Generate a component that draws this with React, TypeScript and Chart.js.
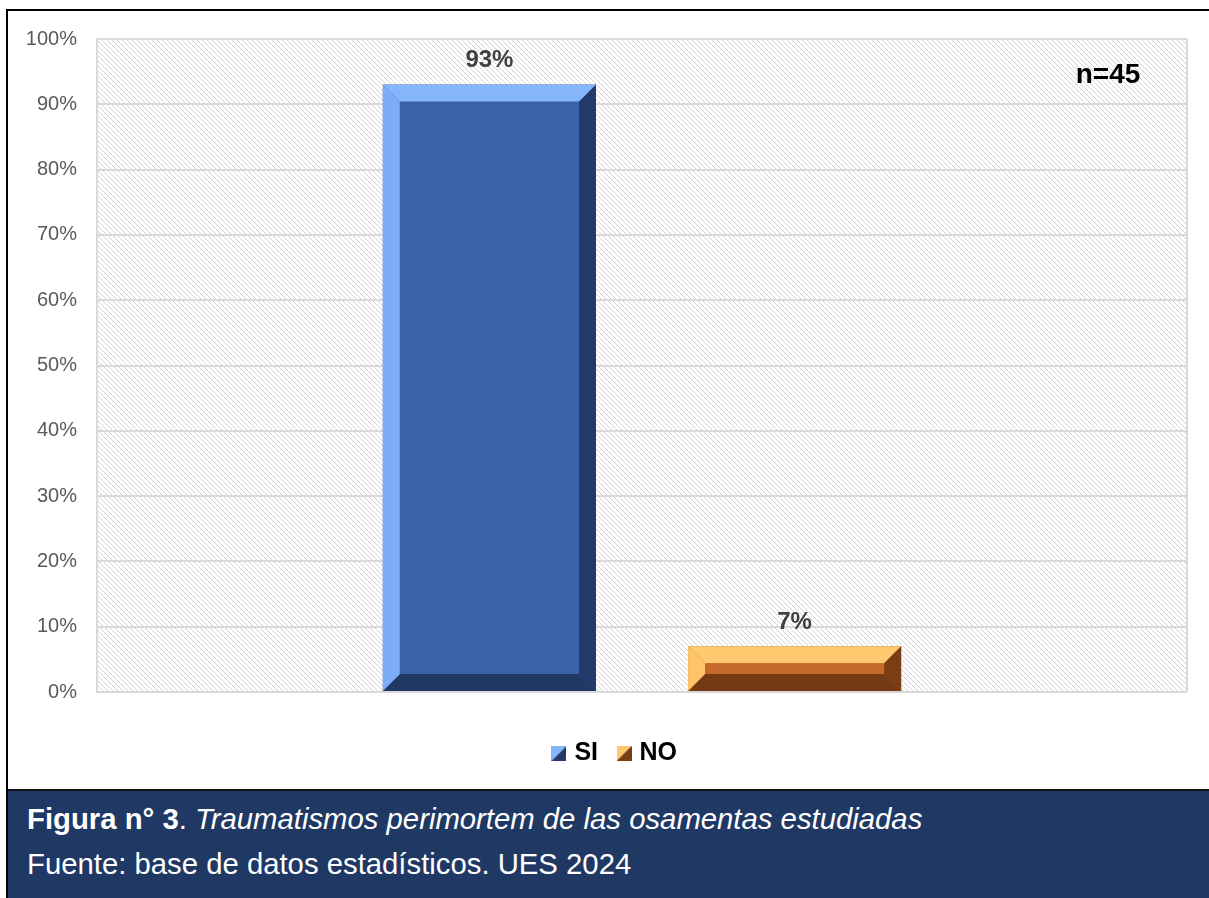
import React, { useEffect, useRef } from 'react';
import { Chart, registerables } from 'chart.js';

Chart.register(...registerables);

// ---- data ----
const categories: string[] = [''];
const seriesNames: string[] = ['SI', 'NO'];
const siValues: number[] = [93];
const noValues: number[] = [7];
const yTickValues: number[] = [0, 10, 20, 30, 40, 50, 60, 70, 80, 90, 100];
const sampleLabel = 'n=45';
const captionBold = 'Figura n° 3';
const captionItalic = 'Traumatismos perimortem de las osamentas estudiadas';
const sourceText = 'Fuente: base de datos estadísticos. UES 2024';

const palettes = [
  { face: '#3A62A6', top: '#85B5FB', left: '#7DAEF5', right: '#22396A', bottom: '#203864' },
  { face: '#C5692A', top: '#FFC970', left: '#FDC46A', right: '#7A3E15', bottom: '#743A14' },
];

const FONT = '"Liberation Sans", Arial, Helvetica, sans-serif';

function poly(ctx: CanvasRenderingContext2D, pts: number[][], color: string) {
  ctx.beginPath();
  ctx.moveTo(pts[0][0], pts[0][1]);
  for (let i = 1; i < pts.length; i++) ctx.lineTo(pts[i][0], pts[i][1]);
  ctx.closePath();
  ctx.fillStyle = color;
  ctx.fill();
}

function makeIcon(p: { top: string; right: string }) {
  const c = document.createElement('canvas');
  c.width = 15;
  c.height = 15;
  const g = c.getContext('2d')!;
  poly(g, [[0, 0], [15, 0], [0, 15]], p.top);
  poly(g, [[15, 0], [15, 15], [0, 15]], p.right);
  return c;
}

export default function App() {
  const ref = useRef<HTMLCanvasElement | null>(null);

  useEffect(() => {
    if (!ref.current) return;
    const tile = document.createElement('canvas');
    tile.width = 5;
    tile.height = 5;
    const tctx = tile.getContext('2d')!;
    tctx.fillStyle = '#ffffff';
    tctx.fillRect(0, 0, 5, 5);
    tctx.fillStyle = '#D2D2D2';
    for (let i = 0; i < 5; i++) tctx.fillRect(i, i, 1, 1);
    const icons = palettes.map(makeIcon);

    const decor = {
      id: 'decor',
      afterLayout(chart: any) {
        if (chart.legend) {
          chart.legend.left += 19;
          chart.legend.right += 19;
        }
      },
      beforeDraw(chart: any) {
        const { ctx, chartArea: a } = chart;
        const pat = ctx.createPattern(tile, 'repeat');
        ctx.save();
        ctx.fillStyle = pat;
        ctx.fillRect(a.left, a.top, a.right - a.left, a.bottom - a.top);
        ctx.restore();
      },
      beforeDatasetsDraw(chart: any) {
        const { ctx, chartArea: a } = chart;
        ctx.save();
        ctx.strokeStyle = '#D9D9D9';
        ctx.lineWidth = 2;
        ctx.beginPath();
        ctx.moveTo(a.right, a.top);
        ctx.lineTo(a.right, a.bottom);
        ctx.stroke();
        ctx.restore();
      },
      afterDatasetsDraw(chart: any) {
        const { ctx, chartArea: a } = chart;
        ctx.save();
        chart.data.datasets.forEach((ds: any, di: number) => {
          const meta = chart.getDatasetMeta(di);
          const p = palettes[di];
          meta.data.forEach((el: any, idx: number) => {
            const { x, y, base, width } = el.getProps(['x', 'y', 'base', 'width'], true);
            const l = x - width / 2;
            const r = x + width / 2;
            const t = Math.min(y, base);
            const bo = Math.max(y, base);
            const h = bo - t;
            const b = Math.min(17, h / 2, width / 2);
            ctx.fillStyle = p.face;
            ctx.fillRect(l, t, width, h);
            poly(ctx, [[l, t], [r, t], [r - b, t + b], [l + b, t + b]], p.top);
            poly(ctx, [[l, bo], [r, bo], [r - b, bo - b], [l + b, bo - b]], p.bottom);
            poly(ctx, [[l, t], [l + b, t + b], [l + b, bo - b], [l, bo]], p.left);
            poly(ctx, [[r, t], [r, bo], [r - b, bo - b], [r - b, t + b]], p.right);
            ctx.fillStyle = p.face;
            ctx.fillRect(l + b, t + b, width - 2 * b, h - 2 * b);
            ctx.font = `bold 24px ${FONT}`;
            ctx.fillStyle = '#404040';
            ctx.textAlign = 'center';
            ctx.textBaseline = 'middle';
            ctx.fillText(ds.data[idx] + '%', x, t - 24);
          });
        });
        ctx.font = `bold 28px ${FONT}`;
        ctx.fillStyle = '#000000';
        ctx.textAlign = 'center';
        ctx.textBaseline = 'middle';
        ctx.fillText(sampleLabel, a.right - 79, a.top + 36);
        ctx.restore();
      },
    };

    const chart = new Chart(ref.current, {
      type: 'bar',
      data: {
        labels: categories,
        datasets: [
          { label: seriesNames[0], data: siValues, backgroundColor: palettes[0].face },
          { label: seriesNames[1], data: noValues, backgroundColor: palettes[1].face },
        ],
      },
      options: {
        animation: false,
        responsive: false,
        events: [],
        layout: { padding: { left: 0, right: 22, top: 28, bottom: 13 } },
        datasets: {
          bar: { categoryPercentage: 0.56, barPercentage: 0.698 },
        } as any,
        scales: {
          x: {
            display: true,
            grid: { display: false },
            border: { display: false },
            ticks: { display: false },
            afterFit: (s: any) => {
              s.height = 26;
            },
          },
          y: {
            min: 0,
            max: 100,
            afterBuildTicks: (s: any) => {
              s.ticks = yTickValues.map((v) => ({ value: v }));
            },
            ticks: {
              callback: (v: any) => v + '%',
              color: '#595959',
              font: { family: FONT, size: 20 },
              padding: 8,
            },
            grid: {
              color: '#D9D9D9',
              lineWidth: 2,
              drawTicks: true,
              tickLength: 12,
              tickColor: 'rgba(0,0,0,0)',
            },
            border: { display: true, color: '#D9D9D9', width: 2 },
            afterFit: (s: any) => {
              s.width = 89;
            },
          },
        },
        plugins: {
          tooltip: { enabled: false },
          legend: {
            display: true,
            position: 'bottom',
            labels: {
              usePointStyle: true,
              pointStyleWidth: 6,
              padding: 23,
              color: '#000000',
              font: { family: FONT, size: 25, weight: 'bold' },
              generateLabels: (c: any) =>
                c.data.datasets.map((ds: any, i: number) => ({
                  text: ds.label,
                  pointStyle: icons[i],
                  fillStyle: palettes[i].face,
                  strokeStyle: 'rgba(0,0,0,0)',
                  lineWidth: 0,
                  hidden: false,
                  datasetIndex: i,
                  fontColor: '#000000',
                })),
            },
          },
        },
      },
      plugins: [decor],
    } as any);
    return () => chart.destroy();
  }, []);

  return (
    <div style={{ position: 'absolute', left: 0, top: 0, width: 1209, height: 898, background: '#fff', overflow: 'hidden', fontFamily: FONT }}>
      <div style={{ position: 'absolute', left: 6, top: 9, width: 1240, height: 800, borderLeft: '2px solid #000', borderTop: '2px solid #000', boxSizing: 'border-box' }} />
      <div style={{ position: 'absolute', left: 8, top: 11, width: 1201, height: 778 }}>
        <canvas ref={ref} width={1201} height={778} style={{ display: 'block', width: 1201, height: 778 }} />
      </div>
      <div style={{ position: 'absolute', left: 6, top: 789, width: 1240, height: 120, background: '#203864', borderLeft: '2px solid #000', borderTop: '2px solid #111', boxSizing: 'border-box' }}>
        <div style={{ position: 'absolute', left: 19, top: 11, color: '#fff', fontSize: 29.3, lineHeight: '34px', whiteSpace: 'nowrap' }}>
          <b>{captionBold}</b>. <i>{captionItalic}</i>
        </div>
        <div style={{ position: 'absolute', left: 19, top: 56, color: '#fff', fontSize: 29.3, lineHeight: '34px', whiteSpace: 'nowrap' }}>
          {sourceText}
        </div>
      </div>
    </div>
  );
}
